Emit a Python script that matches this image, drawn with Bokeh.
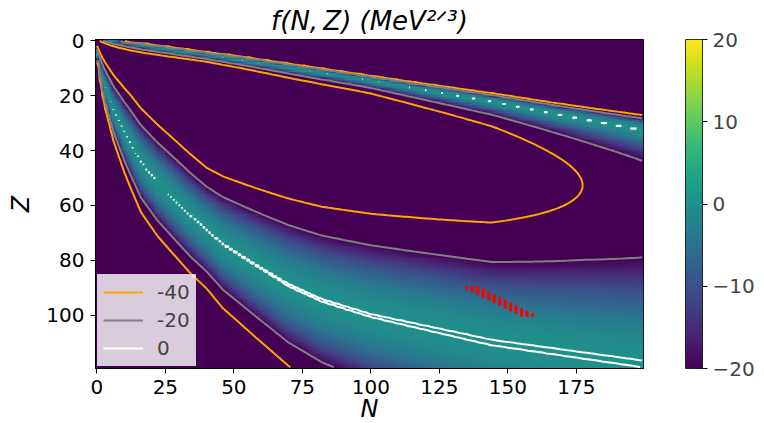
import numpy as np
import contourpy
from bokeh.plotting import figure
from bokeh.models import (Range1d, LinearColorMapper, ColorBar, FixedTicker,
                          Legend, LegendItem)
from bokeh.palettes import Viridis256
from bokeh.embed import file_html
from bokeh.resources import INLINE

# ---------------- data ----------------
N_COUNT, Z_COUNT = 200, 120

# centre line of the lower (proton-rich) ridge, f ~ 0
lower_N = [0, 1, 2, 3, 6, 10, 16, 22, 34, 46, 58, 70, 82, 100, 144, 199]
lower_Z = [5, 9.5, 13.5, 16.8, 25, 33.3, 44.2, 51.5, 63.6, 74.2, 81.8, 89.1, 94.6, 100.2, 110, 117.8]

# centre line of the upper (neutron-rich) ridge, f ~ 0
upper_N = [0, 5.6, 53, 72, 97, 120, 145, 169, 199]
upper_Z = [-1.0, 0.1, 7.0, 10.1, 14.0, 18.0, 22.3, 27.0, 32.6]

# depth / skew of the trough between the ridges (from contour positions)
shape_N = [0, 12, 40, 70, 100, 144, 177, 199]
shape_K = [14, 15, 20, 18, 16.7, 16, 14.4, 13.75]
shape_c = [0.08, 0.08, 0.08, 0.08, 0.082, 0.13, 0.178, 0.218]
# small positive crest on the ridges (gives the white 0-contour)
crest_N = [0, 15, 30, 55, 100, 140, 199]
crest_f = [0.03, 0.025, 0.02, 0.014, 0.015, 0.03, 0.03]

contour_levels = [-40, -20, 0]
contour_colors = ["orange", "gray", "white"]
contour_labels = ["-40", "-20", "0"]

# red markers
red_N = [135, 137, 139, 137, 139, 141, 139, 141, 143, 141, 143, 145, 143, 145, 147,
         145, 147, 149, 147, 149, 151, 149, 151, 153, 151, 153, 155, 153, 155, 157,
         155, 157, 159]
red_Z = [90, 90, 90, 91, 91, 91, 92, 92, 92, 93, 93, 93, 94, 94, 94,
         95, 95, 95, 96, 96, 96, 97, 97, 97, 98, 98, 98, 99, 99, 99,
         100, 100, 100]

x_ticks = [0, 25, 50, 75, 100, 125, 150, 175]
y_ticks = [0, 20, 40, 60, 80, 100]
cb_ticks = [-20, -10, 0, 10, 20]
title_text = "f(N,\u2009Z) (MeV\u00b2\u141f\u00b3)"

# ---------------- field on the N x Z grid ----------------
n = np.arange(N_COUNT)
z = np.arange(Z_COUNT)
NN, ZZ = np.meshgrid(n, z)
Z1 = np.interp(n, lower_N, lower_Z)[None, :]
Z2 = np.interp(n, upper_N, upper_Z)[None, :]
K = np.interp(n, shape_N, shape_K)[None, :]
C = np.interp(n, shape_N, shape_c)[None, :]
E = np.interp(n, crest_N, crest_f)[None, :]
u = (ZZ - Z2) / (Z1 - Z2)
den = u + C
den = np.where(np.abs(den) < 1e-3, 1e-3, den)
h = K * u * (1 - u) / den
F = E - h ** 2
F = np.maximum(F, -1000.0)

# ---------------- figure ----------------
FONT = "DejaVu Sans"
p = figure(frame_width=548, frame_height=329,
           min_border_left=95, min_border_right=119, min_border_top=37, min_border_bottom=55,
           x_range=Range1d(-0.5, 199.5), y_range=Range1d(-119.5, 0.5),
           output_backend="svg", toolbar_location=None)
p.grid.visible = False
p.outline_line_color = "black"
p.background_fill_color = "white"

p.title.text = title_text
p.title.align = "center"
p.title.offset = 8
p.title.text_font = FONT
p.title.text_font_size = "26px"
p.title.text_font_style = "italic"
p.title.text_color = "black"
p.title.standoff = 7

mapper = LinearColorMapper(palette=Viridis256, low=-20, high=20)
p.image(image=[F[::-1]], x=-0.5, y=-119.5, dw=N_COUNT, dh=Z_COUNT, color_mapper=mapper)

gen = contourpy.contour_generator(x=n, y=z, z=F, line_type="Separate")
items = []
for lev, col, lab in zip(contour_levels, contour_colors, contour_labels):
    lines = gen.lines(lev)
    xs = [list(l[:, 0]) for l in lines if len(l) > 1]
    ys = [list(-l[:, 1]) for l in lines if len(l) > 1]
    r = p.multi_line(xs=xs, ys=ys, line_color=col, line_width=2)
    items.append(LegendItem(label=lab, renderers=[r]))

p.rect(x=red_N, y=[-v for v in red_Z], width=1, height=1.15,
       fill_color="red", line_color="red", line_width=0.3)

legend = Legend(items=items, location="bottom_left", margin=2, padding=5, spacing=4,
                glyph_width=40, glyph_height=20, label_height=20, label_standoff=14,
                label_text_font_size="20px", label_text_font=FONT,
                background_fill_color="white", background_fill_alpha=0.8,
                border_line_color="#cccccc", border_line_alpha=0.8)
p.add_layout(legend)

# axes
p.xaxis.ticker = FixedTicker(ticks=x_ticks)
p.yaxis.ticker = FixedTicker(ticks=[-t for t in y_ticks])
p.yaxis.major_label_overrides = {-t: str(t) for t in y_ticks}
for ax in (p.xaxis, p.yaxis):
    ax.major_tick_in = 0
    ax.major_tick_out = 5
    ax.minor_tick_line_color = None
    ax.major_label_text_font_size = "20px"
    ax.major_label_text_font = FONT
    ax.major_label_text_color = "black"
    ax.axis_label_text_font_size = "24px"
    ax.axis_label_text_font = FONT
    ax.axis_label_text_font_style = "italic"
    ax.axis_label_text_color = "black"
    ax.axis_line_color = "black"
    ax.major_label_standoff = 6
p.xaxis.axis_label = "N"
p.yaxis.axis_label = "Z"
p.xaxis.axis_label_standoff = -2
p.yaxis.axis_label_standoff = 8

cb = ColorBar(color_mapper=mapper, ticker=FixedTicker(ticks=cb_ticks),
              major_label_overrides={-20: "\u221220", -10: "\u221210", 0: "0", 10: "10", 20: "20"},
              width=17, height=329, padding=0, margin=0, location=(42, 0),
              major_tick_in=0, major_tick_out=5, major_tick_line_color="black",
              bar_line_color="black", bar_line_width=0.8,
              major_label_text_font_size="20px", major_label_text_font=FONT,
              label_standoff=5, background_fill_alpha=0, border_line_color=None)
p.add_layout(cb, "right")

open("out.html", "w").write(file_html(p, INLINE))
